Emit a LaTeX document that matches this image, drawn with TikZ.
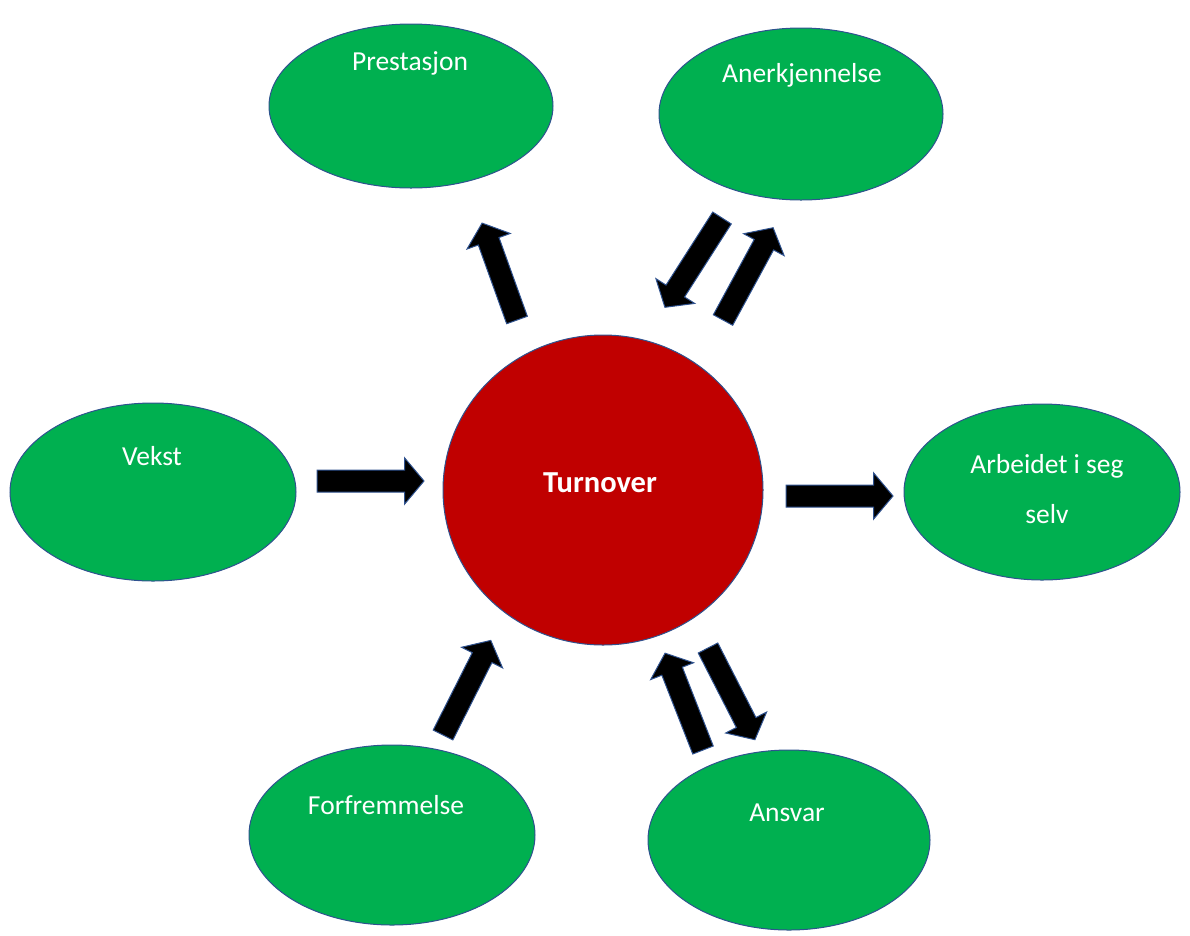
\documentclass[tikz,border=0pt]{standalone}
\usepackage{fontspec}
\setmainfont{Carlito}
\usepackage{tikz}
\usetikzlibrary{shapes.geometric, shapes.arrows}
\definecolor{ovalgreen}{HTML}{00B050}
\definecolor{hubred}{HTML}{C00000}
\definecolor{rimblue}{HTML}{2F528F}
\newcommand{\fsLabel}{\fontsize{27.5}{50}\selectfont}
\newcommand{\fsHub}{\fontsize{30.5}{36}\selectfont\bfseries}

\begin{document}
\begin{tikzpicture}[x=1pt, y=-1pt,
  every node/.style={font=\fsLabel, text=white},
  oval/.style={ellipse, fill=ovalgreen, draw=rimblue, line width=1pt, inner sep=0pt},
  hub/.style={ellipse, fill=hubred, draw=rimblue, line width=1pt, inner sep=0pt,
    minimum width=320pt, minimum height=310pt},
  blkarrow/.style={single arrow, fill=black, draw=rimblue, line width=1pt,
    inner xsep=0pt, inner ysep=10.5pt, outer sep=0pt, anchor=tail,
    single arrow head extend=12pt, single arrow tip angle=100}]
  \useasboundingbox (0,0) rectangle (1190,935);

  % centre
  \node[hub] (turnover) at (603,490) {};
  \node[anchor=base, font=\fsHub] (turnovertxt) at (600,492) {Turnover};

  % outer ovals
  \node[oval, minimum width=284pt, minimum height=164pt] (prestasjon) at (411,106) {};
  \node[anchor=base] (prestasjontxt) at (410,70) {Prestasjon};

  \node[oval, minimum width=284pt, minimum height=172pt] (anerkjennelse) at (801,114) {};
  \node[anchor=base] (anerkjennelsetxt) at (802,82) {Anerkjennelse};

  \node[oval, minimum width=286pt, minimum height=178pt] (vekst) at (153,492) {};
  \node[anchor=base] (vekststxt) at (152,465) {Vekst};

  \node[oval, minimum width=276pt, minimum height=176pt] (arbeidet) at (1042,492) {};
  \node[anchor=base, align=center] (arbeidettxt) at (1047,523) {Arbeidet i seg\\selv};

  \node[oval, minimum width=286pt, minimum height=180pt] (forfremmelse) at (392,835) {};
  \node[anchor=base] (forfremmelsetxt) at (386,814) {Forfremmelse};

  \node[oval, minimum width=282pt, minimum height=180pt] (ansvar) at (789,840) {};
  \node[anchor=base] (ansvartxt) at (787,821) {Ansvar};

  % block arrows (tail, length, direction)
  \node[blkarrow, minimum height=103pt, rotate=109.8] (toprestasjon) at (517,320) {};
  \node[blkarrow, minimum height=106pt, rotate=237.4] (fromanerkj) at (722,218) {};
  \node[blkarrow, minimum height=105pt, rotate=61.5] (toanerkj) at (723,320) {};
  \node[blkarrow, minimum height=107pt, rotate=0] (fromvekst) at (317,481) {};
  \node[blkarrow, minimum height=107pt, rotate=0] (toarbeidet) at (786,496) {};
  \node[blkarrow, minimum height=106pt, rotate=63.2] (fromforfr) at (443,735) {};
  \node[blkarrow, minimum height=104pt, rotate=111.4] (fromansvar) at (703,750) {};
  \node[blkarrow, minimum height=103pt, rotate=-62.9] (toansvar) at (708,648) {};
\end{tikzpicture}
\end{document}
